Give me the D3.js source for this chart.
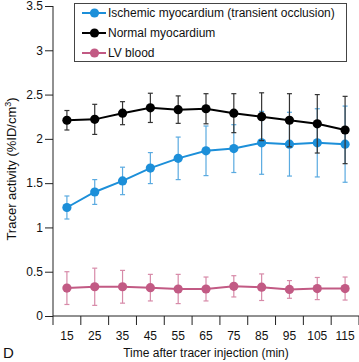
<!DOCTYPE html>
<html><head><meta charset="utf-8">
<script src="https://cdn.jsdelivr.net/npm/d3@7"></script>
<style>
html,body{margin:0;padding:0;background:#fff;}
svg{display:block;font-family:"Liberation Sans",Arial,Helvetica,sans-serif;}
</style></head>
<body>
<svg id="chart" width="359" height="362"></svg>
<script>
const categories = ["15","25","35","45","55","65","75","85","95","105","115"];
const ischemic    = [1.225,1.40,1.525,1.67,1.78,1.865,1.89,1.955,1.94,1.955,1.94];
const ischemicErr = [0.13,0.14,0.155,0.175,0.24,0.28,0.27,0.355,0.36,0.385,0.43];
const normal      = [2.21,2.22,2.29,2.35,2.33,2.34,2.29,2.25,2.21,2.17,2.10];
const normalErr   = [0.11,0.17,0.13,0.165,0.155,0.17,0.22,0.27,0.30,0.33,0.38];
const lvBlood     = [0.315,0.33,0.33,0.32,0.305,0.305,0.335,0.325,0.30,0.31,0.31];
const lvBloodErr  = [0.185,0.21,0.185,0.15,0.165,0.135,0.12,0.15,0.10,0.125,0.13];
const yTicks = [0,0.5,1,1.5,2,2.5,3,3.5];
const seriesNames = ["Ischemic myocardium (transient occlusion)","Normal myocardium","LV blood"];

const series = [
  {name: seriesNames[0], vals: ischemic, err: ischemicErr, color: "#1c8fd9", errColor: "#5aaae0"},
  {name: seriesNames[1], vals: normal,   err: normalErr,   color: "#000000", errColor: "#333333"},
  {name: seriesNames[2], vals: lvBlood,  err: lvBloodErr,  color: "#c25a84", errColor: "#d78aa8"}
];

const FS = 12;
const svg = d3.select("#chart");
const x = d3.scaleBand().domain(categories).range([53, 359]).padding(0);
const y = d3.scaleLinear().domain([0, 3.5]).range([316, 6]);

// Y axis
const yAxis = d3.axisLeft(y).tickValues(yTicks).tickFormat(d => String(d)).tickSize(8).tickPadding(2);
const gy = svg.append("g").attr("transform", "translate(53,0)").call(yAxis);
gy.select(".domain").attr("d", `M0,${y(3.5)}V${y(0)}`).attr("stroke", "#222");
gy.selectAll(".tick line").attr("stroke", "#222");
gy.selectAll(".tick text").attr("font-size", FS).attr("fill", "#111").attr("font-family", "Liberation Sans,Arial,sans-serif");

// X axis
const gx = svg.append("g").attr("transform", "translate(0,316)");
gx.append("line").attr("x1", x.range()[0]).attr("x2", x.range()[1]).attr("y1", 0).attr("y2", 0).attr("stroke", "#222");
const boundaries = categories.map(c => x(c)).concat([x(categories[categories.length-1]) + x.bandwidth()]);
gx.selectAll("line.tk").data(boundaries).join("line").attr("class","tk")
  .attr("x1", d => d).attr("x2", d => d).attr("y1", 0).attr("y2", 9).attr("stroke", "#222");
gx.selectAll("text.tl").data(categories).join("text").attr("class","tl")
  .attr("x", d => x(d) + x.bandwidth()/2).attr("y", 23.5)
  .attr("text-anchor", "middle").attr("font-size", FS).attr("fill", "#111").text(d => d);

// Axis titles
svg.append("text").attr("x", 206).attr("y", 356.5).attr("text-anchor", "middle")
  .attr("font-size", FS).attr("fill", "#111").text("Time after tracer injection (min)");
svg.append("text").attr("x", 3).attr("y", 358).attr("font-size", 15).attr("fill", "#111").text("D");
const yl = svg.append("text").attr("transform", "translate(16,169) rotate(-90)")
  .attr("text-anchor", "middle").attr("font-size", 13).attr("fill", "#111");
yl.append("tspan").text("Tracer activity (%ID/cm");
yl.append("tspan").attr("font-size", 9).attr("dy", -5).text("3");
yl.append("tspan").attr("dy", 5).text(")");

// Series
const cx = (i) => x(categories[i]) + x.bandwidth()/2;
const line = d3.line().x((d, i) => cx(i)).y(d => y(d));
series.forEach(s => {
  const g = svg.append("g");
  s.vals.forEach((v, i) => {
    const xc = cx(i);
    g.append("line").attr("x1", xc).attr("x2", xc).attr("y1", y(v + s.err[i])).attr("y2", y(v - s.err[i]))
      .attr("stroke", s.errColor).attr("stroke-width", 1.2);
    [v + s.err[i], v - s.err[i]].forEach(e => {
      g.append("line").attr("x1", xc - 2.5).attr("x2", xc + 2.5).attr("y1", y(e)).attr("y2", y(e))
        .attr("stroke", s.errColor).attr("stroke-width", 1.2);
    });
  });
  g.append("path").datum(s.vals).attr("d", line).attr("fill", "none")
    .attr("stroke", s.color).attr("stroke-width", 2);
  g.selectAll("circle").data(s.vals).join("circle")
    .attr("cx", (d, i) => cx(i)).attr("cy", d => y(d)).attr("r", 4.6).attr("fill", s.color);
});

// Legend
const lg = svg.append("g");
lg.append("rect").attr("x", 74.5).attr("y", 3.5).attr("width", 272).attr("height", 58)
  .attr("fill", "#fff").attr("stroke", "#444").attr("stroke-width", 1);
series.forEach((s, i) => {
  const ly = 13 + i * 20;
  lg.append("line").attr("x1", 82).attr("x2", 106).attr("y1", ly).attr("y2", ly)
    .attr("stroke", s.color).attr("stroke-width", 2);
  lg.append("circle").attr("cx", 94.5).attr("cy", ly).attr("r", 4.6).attr("fill", s.color);
  lg.append("text").attr("x", 108).attr("y", ly + 4.3).attr("font-size", FS).attr("fill", "#111").text(s.name);
});
</script>
</body></html>
